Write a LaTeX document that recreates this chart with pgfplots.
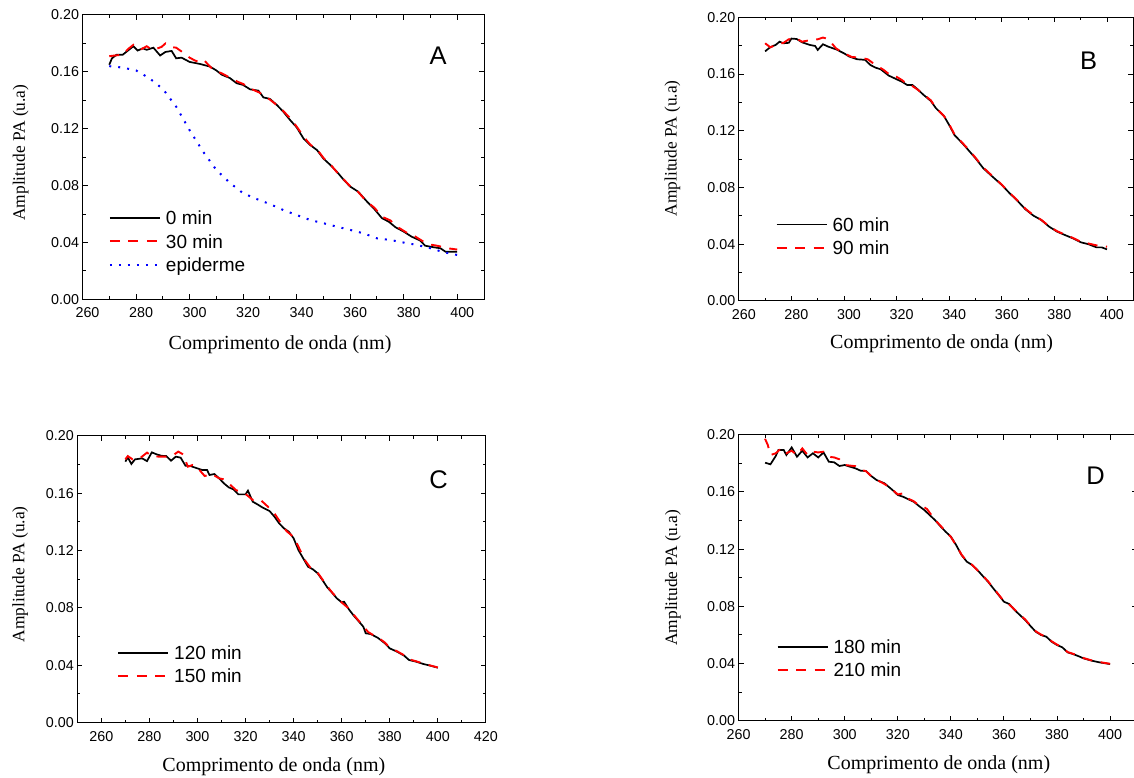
\documentclass[border=0pt]{standalone}
\usepackage{pgfplots}
\pgfplotsset{compat=1.18}
\usepackage{fontspec}
\setmainfont{Liberation Serif}
\newfontfamily\sansf{Liberation Sans}

\pgfplotsset{
 panel/.style={
  scale only axis,
  anchor=south west,
  ymin=0, ymax=0.2,
  ytick={0,0.04,0.08,0.12,0.16,0.20},
  minor y tick num=1,
  minor x tick num=1,
  tick align=inside,
  major tick length=5pt,
  minor tick length=3pt,
  axis line style={line width=1pt},
  tick style={line width=1pt, black},
  /pgf/number format/assume math mode=true,
  ticklabel style={font=\sansf\fontsize{14.3}{17}\selectfont},
  yticklabel style={/pgf/number format/fixed, /pgf/number format/fixed zerofill, /pgf/number format/precision=2},
  scaled y ticks=false,
  xlabel={Comprimento de onda (nm)},
  ylabel={Amplitude PA (u.a)},
  xlabel style={font=\fontsize{20}{24}\selectfont, anchor=center},
  ylabel style={font=\fontsize{17.4}{20}\selectfont, anchor=center},
  legend style={draw=none, fill=none, inner sep=0pt, outer sep=0pt, anchor=north west,
    font=\sansf\fontsize{19}{22}\selectfont, row sep=5.7pt, column sep=5pt,
    nodes={inner sep=0pt, text height=13.6pt, text depth=4pt}},
  legend cell align=left,
  legend image code/.code={\draw[#1] (0pt,2pt) -- (50pt,2pt);},
 },
 blk/.style={black, line width=1.7pt},
 rdd/.style={red, line width=1.9pt, dash pattern=on 10pt off 8.5pt},
 blu/.style={blue, line width=2pt, dash pattern=on 2pt off 7pt},
}

\begin{document}
\begin{tikzpicture}
\useasboundingbox (0,0) rectangle (1134pt,778pt);

% ---------------- A ----------------
\begin{axis}[panel, at={(82.5pt,478.7pt)}, width=401.5pt, height=284.3pt,
  xmin=260, xmax=410, xtick={260,280,...,400},
  xticklabel style={xshift=5pt, yshift=-5pt},
  xlabel style={at={(axis description cs:0.492,-0.161)}},
  ylabel style={at={(axis description cs:-0.1537,0.516)}},
  legend style={at={(axis description cs:0.066,0.310)}}]
\addplot[blk] coordinates {
(270,0.165)(271,0.1695)(272.7,0.172)(275,0.172)(277,0.175)(279,0.178)(280.6,0.175)(282.5,0.1765)
(284,0.1755)(286.5,0.177)(289,0.1715)(291,0.174)(293.3,0.1747)(295,0.1695)(297,0.170)(300,0.167)
(304,0.1655)(307.6,0.1637)(310,0.161)(312,0.158)(315,0.1557)(317.6,0.152)(320,0.1508)(322.6,0.1477)
(325.7,0.1468)(327.6,0.142)(330,0.141)(332.6,0.1367)(335,0.132)(337.6,0.126)(340,0.121)(342.6,0.113)
(345,0.1086)(347.6,0.105)(350,0.099)(352.6,0.0945)(355,0.0898)(357.6,0.084)(360,0.0793)(363,0.0757)
(366.3,0.0687)(368.8,0.064)(371.9,0.057)(374.4,0.0546)(377,0.0506)(380,0.0476)(383,0.044)(386.2,0.0413)
(388,0.0377)(391.2,0.0366)(393.7,0.0359)(395.6,0.0335)(400,0.0335)};
\addlegendentry{0 min}
\addplot[rdd] coordinates {
(270,0.171)(272,0.1715)(275,0.172)(277,0.176)(279,0.179)(280.5,0.1765)(282,0.176)(284,0.178)
(286,0.1755)(288,0.1765)(289.5,0.1775)(291,0.180)(293,0.1775)(295,0.177)(298,0.173)(300,0.170)
(302,0.168)(304,0.1665)(305.5,0.168)(308,0.163)(310,0.1605)(312,0.159)(315,0.156)(318,0.153)
(320,0.1515)(323,0.148)(326,0.1455)(330,0.1405)(333,0.136)(335,0.1325)(338,0.1265)(340,0.1215)
(343,0.1135)(345,0.109)(348,0.1045)(350,0.0995)(353,0.094)(355,0.0895)(358,0.0835)(360,0.0795)
(363,0.0755)(366,0.069)(369,0.0645)(372,0.058)(375,0.0555)(378,0.0505)(381,0.047)(384,0.0445)
(387,0.041)(390,0.0385)(393,0.0375)(396,0.036)(400,0.035)};
\addlegendentry{30 min}
\addplot[blu] coordinates {
(270,0.164)(275,0.163)(280,0.161)(285,0.1555)(290,0.148)(295,0.1355)(300,0.119)(305,0.104)
(310,0.091)(315,0.082)(320,0.0746)(325,0.0706)(330,0.067)(335,0.0628)(340,0.0593)(345,0.0558)
(350,0.0535)(355,0.0511)(360,0.0488)(365,0.0464)(370,0.0429)(375,0.0417)(380,0.0399)(385,0.0382)
(390,0.0359)(395,0.0331)(400,0.0312)};
\addlegendentry{epiderme}
\node[font=\sansf\fontsize{25.5}{30}\selectfont] at (rel axis cs:0.886,0.856) {A};
\end{axis}

% ---------------- B ----------------
\begin{axis}[panel, at={(738.8pt,477pt)}, width=394.5pt, height=283.7pt,
  xmin=260, xmax=410, xtick={260,280,...,400},
  xticklabel style={xshift=5pt, yshift=-5pt},
  xlabel style={at={(axis description cs:0.514,-0.149)}},
  ylabel style={at={(axis description cs:-0.168,0.538)}},
  legend style={at={(axis description cs:0.0934,0.294)}}]
\addplot[blk] coordinates {
(270,0.176)(272,0.179)(274,0.1805)(275.5,0.1828)(277,0.1817)(279,0.182)(280,0.185)(282,0.1847)
(284,0.1824)(287,0.1805)(289,0.1798)(290,0.177)(292,0.181)(294,0.1793)(297,0.1774)(300,0.1746)
(302,0.1723)(305,0.1704)(308,0.170)(310,0.1664)(312,0.1645)(314,0.1633)(317,0.1589)(320,0.1563)
(322,0.1546)(324,0.1523)(326,0.1523)(328,0.1492)(330,0.1457)(333,0.141)(335,0.1358)(338,0.1304)
(340,0.124)(342,0.117)(345,0.1112)(347,0.107)(350,0.1006)(353,0.0935)(356,0.0884)(360,0.0818)
(363,0.0759)(366,0.0705)(369,0.0646)(372,0.0602)(375,0.0571)(378,0.0524)(381,0.0489)(384,0.0465)
(387,0.0442)(390,0.0414)(393,0.040)(396,0.0378)(398,0.0378)(400,0.0364)};
\addlegendentry{60 min}
\addplot[rdd] coordinates {
(270,0.1817)(272,0.1788)(274,0.1805)(277,0.182)(279,0.1845)(282,0.185)(284,0.1828)(286,0.1835)
(288,0.184)(290,0.1845)(292,0.1857)(294,0.1847)(297,0.178)(300,0.1746)(303,0.172)(306,0.1716)
(309,0.1704)(312,0.1664)(315,0.163)(318,0.1586)(320,0.158)(322,0.1558)(324,0.1528)(326,0.1515)
(328,0.149)(330,0.146)(333,0.1415)(335,0.136)(338,0.1305)(340,0.1245)(342,0.1175)(345,0.1115)
(347,0.1075)(350,0.101)(353,0.094)(356,0.0888)(360,0.082)(363,0.0762)(366,0.0708)(369,0.065)
(372,0.0605)(375,0.0572)(378,0.0527)(381,0.0492)(384,0.0468)(387,0.0445)(390,0.0418)(393,0.0405)
(396,0.0392)(398,0.0388)(400,0.0383)};
\addlegendentry{90 min}
\node[font=\sansf\fontsize{25.5}{30}\selectfont] at (rel axis cs:0.887,0.847) {B};
\end{axis}

% ---------------- C ----------------
\begin{axis}[panel, at={(77.3pt,55.3pt)}, width=408.6pt, height=287pt,
  xmin=250, xmax=420, xtick={260,280,...,420},
  xticklabel style={yshift=-5pt},
  xlabel style={at={(axis description cs:0.481,-0.153)}},
  ylabel style={at={(axis description cs:-0.140,0.517)}},
  legend style={at={(axis description cs:0.098,0.2676)}}]
\addplot[blk] coordinates {
(270,0.1819)(271,0.1849)(272.5,0.1803)(274,0.1835)(277,0.1842)(279,0.1823)(281,0.1884)(283,0.187)
(285,0.186)(287,0.1858)(289,0.1826)(291,0.1854)(293,0.1847)(295,0.1791)(297,0.1789)(300,0.1772)
(302,0.1761)(304,0.1761)(305,0.1726)(307,0.1733)(309,0.1703)(311,0.1668)(313,0.164)(315,0.1626)
(317,0.1591)(320,0.1591)(321,0.1617)(323,0.154)(325,0.1521)(327,0.150)(330,0.1475)(332,0.1436)
(334,0.1389)(336,0.1354)(338,0.1331)(340,0.1285)(342,0.1203)(344,0.1145)(346,0.1087)(348,0.1069)
(350,0.1041)(352,0.0994)(354,0.0943)(356,0.0906)(358,0.0866)(360,0.0839)(361,0.0843)(363,0.079)
(365,0.0746)(367,0.0708)(369,0.0669)(370,0.0623)(372,0.0618)(375,0.0592)(378,0.0553)(380,0.0518)
(383,0.0495)(386,0.0467)(388,0.0437)(391,0.0425)(394,0.0409)(397,0.0397)(400,0.0383)};
\addlegendentry{120 min}
\addplot[rdd] coordinates {
(270,0.1835)(271,0.1858)(273,0.1835)(276,0.1842)(279,0.1882)(281,0.1858)(284,0.1854)(287,0.1854)
(290,0.1865)(292,0.1889)(294,0.187)(296,0.1784)(298,0.1796)(300,0.1777)(303,0.1719)(306,0.1733)
(309,0.1703)(311,0.1696)(313,0.1668)(316,0.1621)(318,0.161)(320,0.1594)(323,0.1552)(326,0.1556)
(329,0.151)(332,0.1459)(335,0.1384)(337,0.1336)(339,0.1308)(341,0.1261)(343,0.1192)(345,0.1125)
(347,0.108)(350,0.1045)(352,0.0998)(354,0.095)(356,0.0908)(358,0.087)(360,0.0838)(363,0.0795)
(365,0.0752)(367,0.0712)(369,0.0672)(371,0.0632)(373,0.0612)(375,0.0595)(378,0.0558)(380,0.0522)
(383,0.0498)(386,0.047)(388,0.0442)(391,0.0428)(394,0.0412)(397,0.0398)(400,0.0385)};
\addlegendentry{150 min}
\node[font=\sansf\fontsize{25.5}{30}\selectfont] at (rel axis cs:0.884,0.848) {C};
\end{axis}

% ---------------- D ----------------
\begin{axis}[panel, at={(738.6pt,57.3pt)}, width=398pt, height=286pt,
  xmin=260, xmax=410, xtick={260,280,...,400},
  xticklabel style={yshift=-5pt},
  xlabel style={at={(axis description cs:0.503,-0.155)}},
  ylabel style={at={(axis description cs:-0.165,0.50)}},
  legend style={at={(axis description cs:0.0957,0.2825)}}]
\addplot[blk] coordinates {
(270,0.1804)(272,0.1793)(274,0.1851)(275,0.1893)(277,0.1893)(278,0.1858)(280,0.1911)(282,0.1846)
(284,0.1888)(286,0.1841)(288,0.187)(290,0.1841)(292,0.1876)(294,0.1811)(296,0.1807)(298,0.1781)
(300,0.1788)(302,0.1776)(304,0.1765)(306,0.1748)(308,0.1746)(310,0.1711)(312,0.1683)(315,0.166)
(318,0.1613)(320,0.1578)(322,0.1566)(324,0.1548)(326,0.1531)(328,0.1501)(330,0.1473)(332,0.1438)
(334,0.1403)(336,0.1361)(338,0.1322)(340,0.1287)(342,0.1228)(344,0.1159)(346,0.1112)(348,0.1089)
(350,0.1054)(352,0.1012)(354,0.0972)(356,0.0925)(358,0.0879)(360,0.0832)(362,0.0816)(364,0.0774)
(366,0.0739)(368,0.0704)(370,0.0662)(372,0.0622)(374,0.0599)(376,0.0587)(378,0.0552)(380,0.0529)
(382,0.0513)(384,0.0478)(386,0.0466)(388,0.0452)(390,0.0436)(393,0.042)(396,0.0408)(400,0.0396)};
\addlegendentry{180 min}
\addplot[rdd] coordinates {
(269,0.21)(270,0.197)(271,0.1928)(272,0.1858)(274,0.187)(276,0.1904)(278,0.187)(280,0.1888)
(282,0.1858)(284,0.1904)(286,0.1858)(288,0.1881)(290,0.1876)(292,0.1881)(294,0.1846)(296,0.1841)
(298,0.1828)(300,0.1788)(304,0.178)(306,0.1755)(308,0.1745)(310,0.171)(312,0.1685)(315,0.1655)
(318,0.1615)(320,0.1582)(322,0.159)(324,0.1552)(326,0.1535)(328,0.1505)(330,0.1492)(331,0.148)
(334,0.1405)(336,0.1365)(338,0.1325)(340,0.1285)(342,0.1225)(344,0.1162)(346,0.1115)(348,0.109)
(350,0.1052)(352,0.1015)(354,0.0975)(356,0.0928)(358,0.0882)(360,0.0835)(362,0.0812)(364,0.0778)
(366,0.0742)(368,0.0708)(370,0.0665)(372,0.0625)(374,0.0602)(376,0.0585)(378,0.0555)(380,0.0532)
(382,0.0512)(384,0.048)(386,0.0468)(388,0.0455)(390,0.0438)(393,0.0422)(396,0.041)(400,0.0398)};
\addlegendentry{210 min}
\node[font=\sansf\fontsize{25.5}{30}\selectfont] at (rel axis cs:0.897,0.856) {D};
\end{axis}
\end{tikzpicture}
\end{document}
